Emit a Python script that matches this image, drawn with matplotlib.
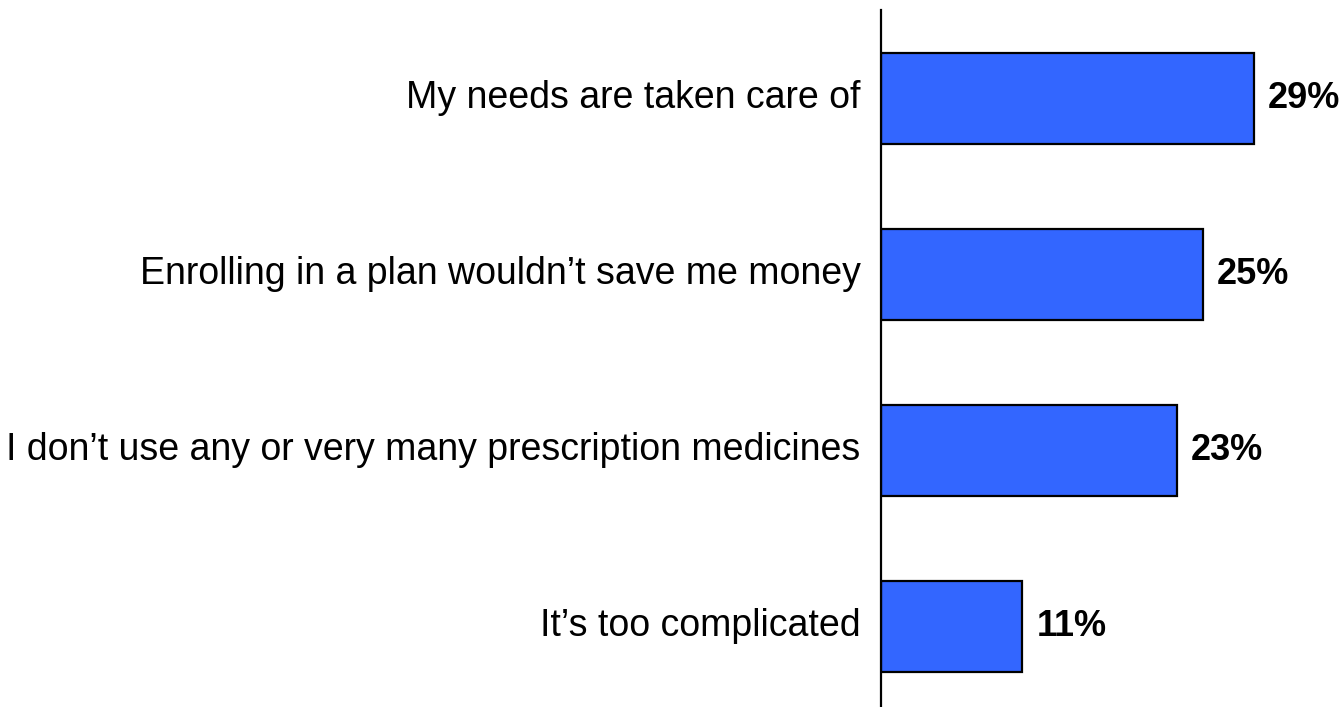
import matplotlib
matplotlib.use("Agg")
import matplotlib.pyplot as plt

plt.rcParams['font.family'] = ['Liberation Sans', 'DejaVu Sans']

reasons = [
    "My needs are taken care of",
    "Enrolling in a plan wouldn\u2019t save me money",
    "I don\u2019t use any or very many prescription medicines",
    "It\u2019s too complicated",
]
shares = [29, 25, 23, 11]

W, H = 1342, 707
fig = plt.figure(figsize=(W / 100, H / 100), dpi=100)
# px: axis at x=881, 12.86 px per percent, top at y=10
ax = fig.add_axes([881 / W, 0, 35 * 12.86 / W, 697 / H])

ypos = list(range(len(reasons)))
ax.barh(ypos, shares, height=0.517, color="#3366FF", edgecolor="black", linewidth=1.6)
ax.set_xlim(0, 35)
ax.set_ylim(3.46, -0.5)

for y, v in zip(ypos, shares):
    ax.text(v + 1.1, y, f"{v}%", va="center", ha="left", fontsize=26,
            fontweight="bold", clip_on=False)
for y, lab in zip(ypos, reasons):
    ax.text(-1.6, y, lab, va="center", ha="right", fontsize=27, clip_on=False)

ax.set_xticks([])
ax.set_yticks([])
for s in ["top", "right", "bottom"]:
    ax.spines[s].set_visible(False)
ax.spines["left"].set_linewidth(1.6)

fig.savefig("out.png", dpi=100)
